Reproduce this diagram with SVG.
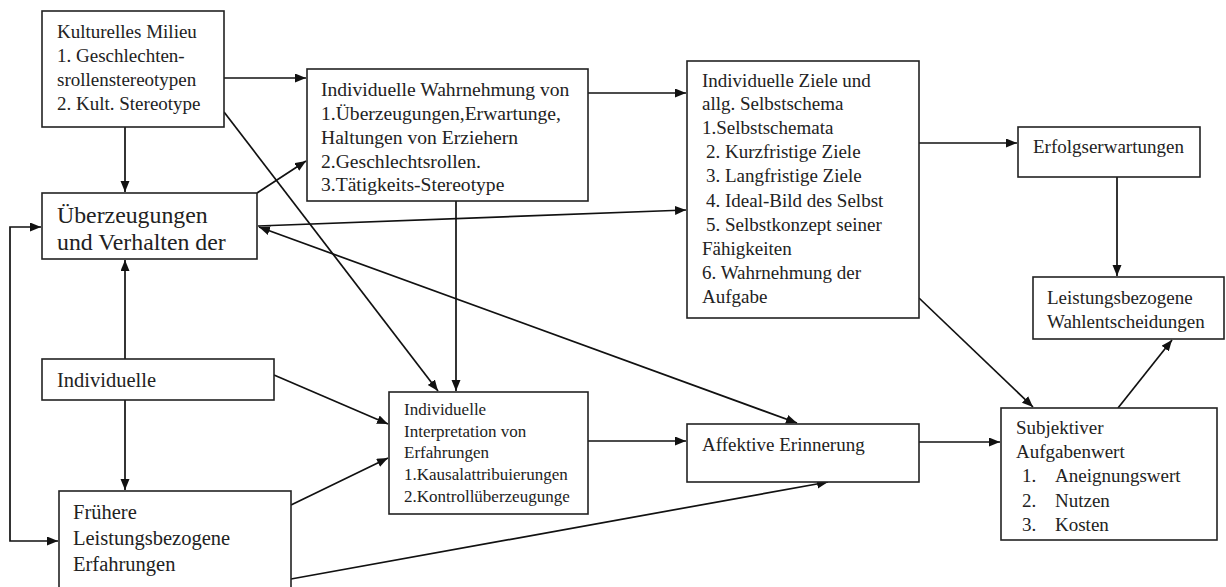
<svg xmlns="http://www.w3.org/2000/svg" width="1226" height="587" viewBox="0 0 1226 587">
<style>
.box{fill:#fff;stroke:#222;stroke-width:1.6}
.t{font-family:"Liberation Serif","Times New Roman",serif;fill:#222;font-size:19px}
.w{font-size:19.6px}
.s{font-size:17px}
.m{font-size:20.5px}
.l{font-size:23.8px}
.c{fill:none;stroke:#111;stroke-width:1.7}
</style>
<defs>
<marker id="ah" markerUnits="userSpaceOnUse" markerWidth="12" markerHeight="10" refX="11" refY="4.5" orient="auto-start-reverse">
<path d="M0,0 L11,4.5 L0,9 z" fill="#111"/>
</marker>
</defs>
<rect width="1226" height="587" fill="#fff"/>
<g id="connectors" class="c" marker-end="url(#ah)">
<path d="M224,78 H306"/>
<path d="M125,127 V192"/>
<path d="M224,112 L438,391"/>
<path d="M257,193 L306,161"/>
<path d="M588,93 H686"/>
<path d="M258,226 L686,210"/>
<path d="M259,227 L797,423" marker-start="url(#ah)"/>
<path d="M456,201 V391"/>
<path d="M125,359 V260"/>
<path d="M125,400 V490"/>
<path d="M274,375 L388,424"/>
<path d="M291,505 L388,458"/>
<path d="M291,579 L828,482"/>
<path d="M41,227 H10 V541 H58" marker-start="url(#ah)"/>
<path d="M588,441 H686"/>
<path d="M919,442 H1000"/>
<path d="M919,143 H1017"/>
<path d="M1117,177 V276"/>
<path d="M919,298 L1033,407"/>
<path d="M1118,408 L1172,340"/>
</g>
<g id="kulturelles-milieu">
<rect class="box" x="42" y="11" width="182" height="116"/>
<text class="t" x="57" y="38">Kulturelles Milieu</text>
<text class="t" x="57" y="62">1. Geschlechten-</text>
<text class="t" x="57" y="86">srollenstereotypen</text>
<text class="t" x="57" y="110">2. Kult. Stereotype</text>
</g>
<g id="wahrnehmung">
<rect class="box" x="307" y="69" width="281" height="132"/>
<text class="t w" x="321" y="96">Individuelle Wahrnehmung von</text>
<text class="t w" x="321" y="120">1.Überzeugungen,Erwartunge,</text>
<text class="t w" x="321" y="144">Haltungen von Erziehern</text>
<text class="t w" x="321" y="168">2.Geschlechtsrollen.</text>
<text class="t w" x="321" y="191">3.Tätigkeits-Stereotype</text>
</g>
<g id="ziele">
<rect class="box" x="687" y="61" width="232" height="257"/>
<text class="t" x="702" y="87">Individuelle Ziele und</text>
<text class="t" x="702" y="110">allg. Selbstschema</text>
<text class="t" x="702" y="134">1.Selbstschemata</text>
<text class="t" x="706" y="158">2. Kurzfristige Ziele</text>
<text class="t" x="706" y="182">3. Langfristige Ziele</text>
<text class="t" x="706" y="207">4. Ideal-Bild des Selbst</text>
<text class="t" x="706" y="231">5. Selbstkonzept seiner</text>
<text class="t" x="702" y="255">Fähigkeiten</text>
<text class="t" x="702" y="279">6. Wahrnehmung der</text>
<text class="t" x="702" y="303">Aufgabe</text>
</g>
<g id="erfolgserwartungen">
<rect class="box" x="1018" y="127" width="182" height="50"/>
<text class="t" x="1033" y="153">Erfolgserwartungen</text>
</g>
<g id="wahlentscheidungen">
<rect class="box" x="1033" y="277" width="191" height="62"/>
<text class="t" x="1047" y="304">Leistungsbezogene</text>
<text class="t" x="1047" y="328">Wahlentscheidungen</text>
</g>
<g id="ueberzeugungen">
<rect class="box" x="42" y="193" width="215" height="66"/>
<text class="t l" x="57" y="223">Überzeugungen</text>
<text class="t l" x="57" y="250">und Verhalten der</text>
</g>
<g id="individuelle">
<rect class="box" x="42" y="359" width="232" height="41"/>
<text class="t m" x="57" y="387">Individuelle</text>
</g>
<g id="fruehere">
<rect class="box" x="59" y="491" width="232" height="104"/>
<text class="t m" x="73" y="519">Frühere</text>
<text class="t m" x="73" y="545">Leistungsbezogene</text>
<text class="t m" x="73" y="571">Erfahrungen</text>
</g>
<g id="interpretation">
<rect class="box" x="389" y="392" width="199" height="122"/>
<text class="t s" x="404" y="415">Individuelle</text>
<text class="t s" x="404" y="437">Interpretation von</text>
<text class="t s" x="404" y="458">Erfahrungen</text>
<text class="t s" x="404" y="480">1.Kausalattribuierungen</text>
<text class="t s" x="404" y="502">2.Kontrollüberzeugunge</text>
</g>
<g id="affektive-erinnerung">
<rect class="box" x="687" y="424" width="232" height="58"/>
<text class="t" x="702" y="451">Affektive Erinnerung</text>
</g>
<g id="aufgabenwert">
<rect class="box" x="1001" y="408" width="216" height="132"/>
<text class="t" x="1016" y="434">Subjektiver</text>
<text class="t" x="1016" y="458">Aufgabenwert</text>
<text class="t" y="482"><tspan x="1022">1.</tspan><tspan x="1055">Aneignungswert</tspan></text>
<text class="t" y="507"><tspan x="1022">2.</tspan><tspan x="1055">Nutzen</tspan></text>
<text class="t" y="531"><tspan x="1022">3.</tspan><tspan x="1055">Kosten</tspan></text>
</g>
</svg>
